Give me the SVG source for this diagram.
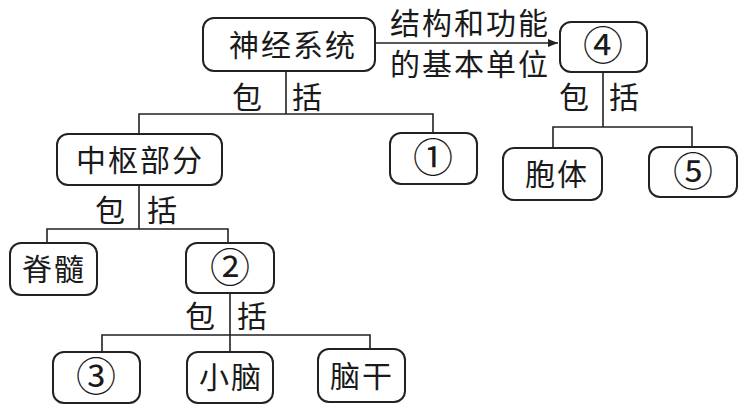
<svg xmlns="http://www.w3.org/2000/svg" width="745" height="405" viewBox="0 0 745 405">
<style>
.box{fill:#fff;stroke:#222;stroke-width:2}
.ln{fill:none;stroke:#222;stroke-width:1.6}
text{font-family:"Noto Sans CJK SC","Noto Sans",sans-serif;font-size:30px;fill:#1a1a1a;text-anchor:middle}
.t{letter-spacing:2px}
.num{font-family:"DejaVu Serif","Noto Sans CJK SC",serif;font-size:40px}
</style>
<defs>
<marker id="arr" viewBox="0 0 10 10" refX="10" refY="5" markerWidth="10" markerHeight="10" markerUnits="userSpaceOnUse" orient="auto">
<path d="M0,1 L10,5 L0,9 Z" fill="#222"/>
</marker>
</defs>
<rect width="745" height="405" fill="#fff"/>
<g id="connectors">
<line class="ln" x1="375" y1="43" x2="558" y2="43" marker-end="url(#arr)"/>
<path class="ln" d="M286,71 V114 M139,134 V114 H433 V133"/>
<path class="ln" d="M603,72 V127 M553,148 V127 H692 V147"/>
<path class="ln" d="M139,185 V229 M47,243 V229 H228 V243"/>
<path class="ln" d="M230,293 V352 M102,352 V335 H370 V349"/>
<text x="470" y="34" class="t" font-size="29">结构和功能</text>
<text x="470" y="75" class="t">的基本单位</text>
<text x="247" y="108">包</text><text x="307" y="108">括</text>
<text x="574" y="108">包</text><text x="624" y="108">括</text>
<text x="110" y="221">包</text><text x="162" y="221">括</text>
<text x="200" y="327">包</text><text x="252" y="327">括</text>
</g>
<g id="n-shenjing"><rect class="box" x="203" y="18" width="172" height="53" rx="11"/><text x="293" y="56" class="t">神经系统</text></g>
<g id="n-4"><rect class="box" x="560" y="22" width="87" height="50" rx="11"/><text class="num" x="603" y="60">④</text></g>
<g id="n-zhongshu"><rect class="box" x="57" y="134" width="165" height="51" rx="11"/><text x="140" y="171" class="t">中枢部分</text></g>
<g id="n-1"><rect class="box" x="390" y="133" width="87" height="51" rx="11"/><text class="num" x="433" y="172">①</text></g>
<g id="n-baoti"><rect class="box" x="503" y="148" width="99" height="52" rx="11"/><text x="557" y="185" class="t">胞体</text></g>
<g id="n-5"><rect class="box" x="649" y="147" width="88" height="50" rx="11"/><text class="num" x="693" y="186">⑤</text></g>
<g id="n-jisui"><rect class="box" x="10" y="243" width="87" height="52" rx="11"/><text x="54" y="280" class="t">脊髓</text></g>
<g id="n-2"><rect class="box" x="186" y="243" width="88" height="50" rx="11"/><text class="num" x="230" y="282">②</text></g>
<g id="n-3"><rect class="box" x="53" y="352" width="87" height="51" rx="11"/><text class="num" x="96" y="391">③</text></g>
<g id="n-xiaonao"><rect class="box" x="187" y="352" width="86" height="51" rx="11"/><text x="231" y="388" class="t">小脑</text></g>
<g id="n-naogan"><rect class="box" x="318" y="349" width="87" height="53" rx="11"/><text x="362" y="387" class="t">脑干</text></g>
</svg>
